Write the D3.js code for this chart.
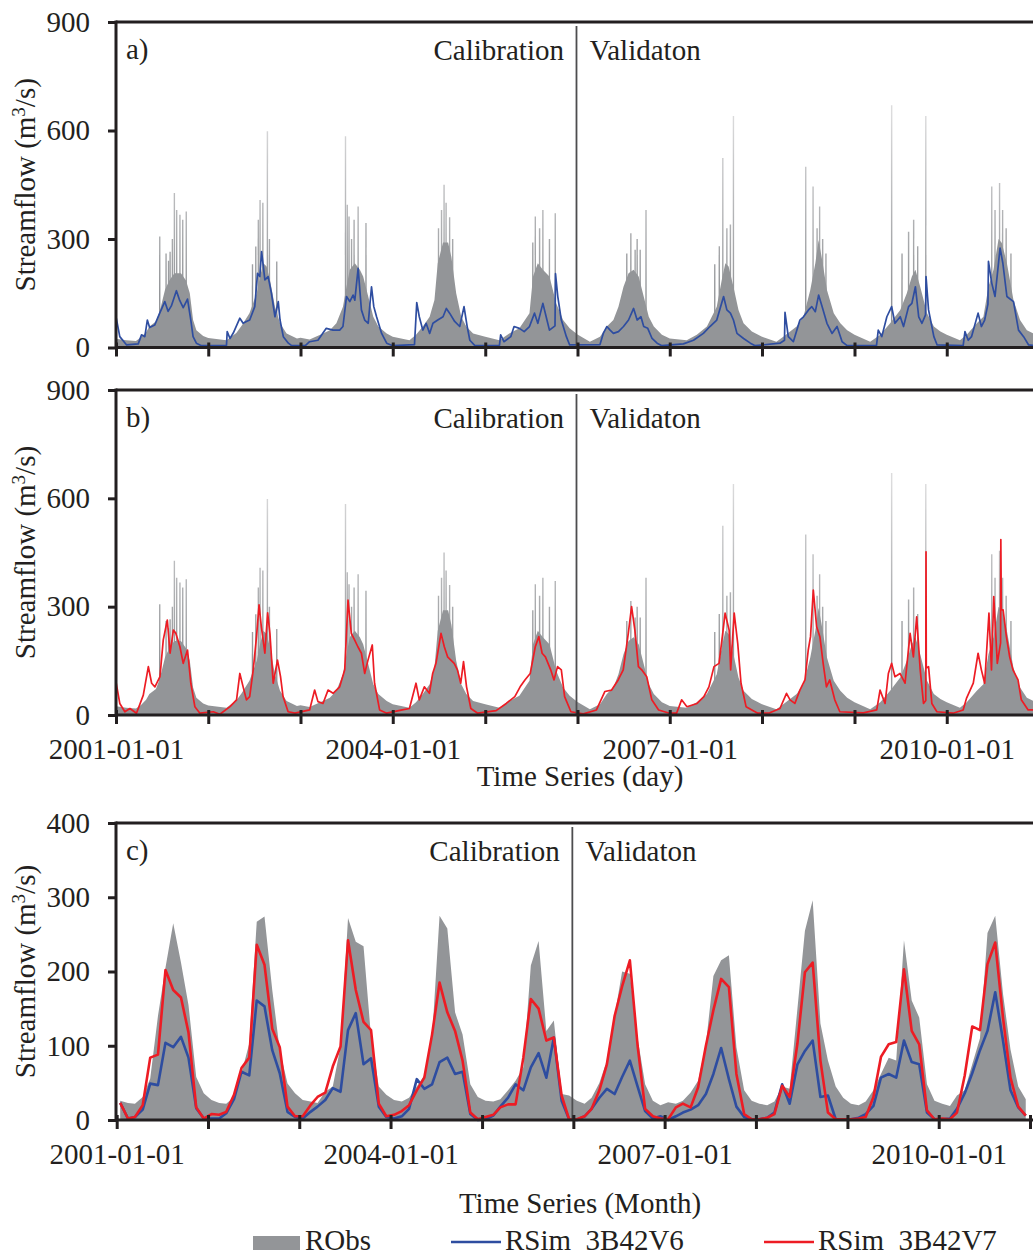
<!DOCTYPE html>
<html>
<head>
<meta charset="utf-8">
<script src="https://cdn.jsdelivr.net/npm/d3@7/dist/d3.min.js"></script>
<style>
body { margin: 0; background: #fff; }
</style>
</head>
<body>
<div id="chart"></div>
<script>
// observed daily streamflow, dense part of the hydrograph (date, m3/s)
var obsDay = [
  ["2001-01-01",24],["2001-02-10",20],["2001-03-21",18],["2001-04-10",28],["2001-04-30",42],["2001-05-13",58],["2001-06-08",72],["2001-06-23",100],["2001-07-14",160],["2001-07-31",185],["2001-08-20",205],["2001-09-15",205],["2001-10-05",185],["2001-10-20",150],["2001-11-02",76],["2001-11-15",48],["2001-12-12",32],
  ["2002-01-01",26],["2002-03-14",20],["2002-04-22",40],["2002-05-13",60],["2002-06-13",95],["2002-07-12",150],["2002-07-25",196],["2002-08-07",233],["2002-08-20",224],["2002-09-02",187],["2002-09-22",113],["2002-10-12",67],["2002-11-07",39],["2002-12-18",25],
  ["2003-01-01",27],["2003-02-06",22],["2003-03-31",39],["2003-04-27",48],["2003-05-23",67],["2003-06-18",113],["2003-07-02",168],["2003-07-15",215],["2003-08-04",233],["2003-08-24",215],["2003-09-06",196],["2003-09-26",141],["2003-10-16",85],["2003-11-05",58],["2003-12-08",39],
  ["2004-01-01",30],["2004-03-07",20],["2004-04-02",35],["2004-04-29",58],["2004-05-26",85],["2004-06-14",131],["2004-06-27",233],["2004-07-18",290],["2004-08-07",290],["2004-08-20",250],["2004-09-08",150],["2004-09-28",85],["2004-10-18",58],["2004-11-14",39],
  ["2005-01-01",30],["2005-02-26",20],["2005-04-06",39],["2005-05-16",53],["2005-06-25",95],["2005-07-09",196],["2005-07-28",233],["2005-08-17",215],["2005-09-12",196],["2005-10-09",122],["2005-11-05",76],["2005-12-01",53],
  ["2006-01-01",36],["2006-02-19",16],["2006-03-31",30],["2006-04-27",58],["2006-05-23",76],["2006-06-12",113],["2006-07-02",168],["2006-07-22",205],["2006-08-11",215],["2006-08-31",196],["2006-09-20",141],["2006-10-10",85],["2006-10-30",58],["2006-12-01",35],
  ["2007-01-01",25],["2007-03-09",20],["2007-04-18",35],["2007-05-28",58],["2007-07-06",113],["2007-07-26",187],["2007-08-09",233],["2007-08-22",224],["2007-09-10",168],["2007-09-30",104],["2007-10-20",67],["2007-11-22",44],
  ["2008-01-01",30],["2008-02-27",16],["2008-03-25",30],["2008-05-17",58],["2008-06-13",85],["2008-07-10",159],["2008-07-30",233],["2008-08-12",297],["2008-08-26",242],["2008-09-14",159],["2008-10-11",95],["2008-11-06",67],["2008-12-03",48],
  ["2009-01-01",35],["2009-03-04",16],["2009-04-13",35],["2009-05-22",67],["2009-07-01",104],["2009-07-27",150],["2009-08-16",196],["2009-08-30",215],["2009-09-18",168],["2009-10-15",95],["2009-11-11",58],["2009-12-07",44],
  ["2010-01-01",35],["2010-02-22",20],["2010-03-21",35],["2010-04-30",67],["2010-05-26",85],["2010-06-15",168],["2010-07-05",215],["2010-07-25",300],["2010-08-07",289],["2010-08-27",233],["2010-09-22",131],["2010-10-18",76],["2010-11-14",48],["2010-12-09",39],["2010-12-31",35]
];

// single-day flood peaks of the observed series
var obsSpikes = [
  ["2001-06-23",307],["2001-07-18",260],["2001-07-28",240],["2001-08-03",265],["2001-08-12",300],["2001-08-20",427],["2001-08-29",380],["2001-09-11",367],["2001-09-22",353],["2001-10-06",376],
  ["2002-06-25",230],["2002-07-08",279],["2002-07-18",353],["2002-07-25",408],["2002-08-05",400],["2002-08-23",598],["2002-08-31",300],["2002-09-29",238],
  ["2003-06-28",584],["2003-07-05",395],["2003-07-12",362],["2003-07-22",300],["2003-08-01",353],["2003-08-17",390],["2003-09-17",344],
  ["2004-06-30",330],["2004-07-12",380],["2004-07-22",450],["2004-07-30",400],["2004-08-13",360],["2004-08-25",300],
  ["2005-07-08",290],["2005-07-18",362],["2005-08-04",330],["2005-08-17",380],["2005-09-12",300],["2005-10-05",371],
  ["2006-07-15",260],["2006-07-31",316],["2006-08-17",270],["2006-08-25",300],["2006-09-06",270],["2006-09-29",380],
  ["2007-06-28",230],["2007-07-16",280],["2007-07-30",524],["2007-08-15",330],["2007-08-29",340],["2007-09-10",640],
  ["2008-06-22",500],["2008-07-21",445],["2008-08-06",330],["2008-08-16",390],["2008-08-28",300],["2008-09-10",260],
  ["2009-05-28",670],["2009-07-08",260],["2009-08-03",320],["2009-08-23",353],["2009-09-08",280],["2009-10-10",640],
  ["2010-06-28",445],["2010-07-11",380],["2010-07-29",455],["2010-08-10",380],["2010-08-24",330],["2010-09-12",260]
];

// simulated daily flow, 3B42V6 forcing
var v6Day = [
  ["2001-01-01",85],["2001-01-16",30],["2001-02-12",7],["2001-03-30",10],["2001-04-12",35],["2001-04-25",30],["2001-05-05",76],["2001-05-14",55],["2001-06-03",62],["2001-06-23",95],["2001-07-13",127],["2001-07-26",100],["2001-08-08",115],["2001-08-28",157],["2001-09-10",130],["2001-09-24",110],["2001-10-11",134],["2001-10-24",76],["2001-11-02",30],["2001-11-15",12],["2001-12-05",5],
  ["2002-03-14",5],["2002-03-17",44],["2002-03-28",25],["2002-04-10",40],["2002-05-06",81],["2002-05-19",67],["2002-06-01",72],["2002-06-14",76],["2002-07-04",113],["2002-07-15",205],["2002-07-24",196],["2002-07-31",265],["2002-08-07",224],["2002-08-13",187],["2002-08-26",196],["2002-09-08",150],["2002-09-22",85],["2002-10-05",127],["2002-10-12",76],["2002-10-25",30],["2002-11-14",12],["2002-11-27",5],
  ["2003-01-20",5],["2003-02-06",16],["2003-03-11",20],["2003-04-13",53],["2003-05-10",48],["2003-06-05",48],["2003-06-18",58],["2003-07-02",141],["2003-07-15",127],["2003-07-28",145],["2003-08-04",131],["2003-08-17",219],["2003-08-30",104],["2003-09-12",76],["2003-09-26",67],["2003-10-09",168],["2003-10-18",113],["2003-10-29",85],["2003-11-18",39],["2003-12-08",12],
  ["2004-01-01",5],["2004-03-27",8],["2004-04-05",124],["2004-04-15",85],["2004-04-29",48],["2004-05-12",67],["2004-05-26",39],["2004-06-08",67],["2004-06-27",76],["2004-07-18",85],["2004-07-31",108],["2004-08-13",95],["2004-09-02",72],["2004-09-22",58],["2004-10-09",113],["2004-10-21",60],["2004-11-01",20],["2004-11-21",5],
  ["2005-02-26",5],["2005-03-03",35],["2005-03-16",16],["2005-04-12",30],["2005-04-25",58],["2005-05-16",53],["2005-06-04",44],["2005-06-25",58],["2005-07-15",95],["2005-07-28",67],["2005-08-17",122],["2005-08-30",85],["2005-09-12",48],["2005-10-04",60],["2005-10-06",204],["2005-10-15",141],["2005-10-29",76],["2005-11-18",30],["2005-12-01",7],
  ["2006-03-31",8],["2006-04-13",39],["2006-04-27",58],["2006-05-10",48],["2006-05-23",39],["2006-06-12",44],["2006-07-02",58],["2006-07-22",76],["2006-08-11",108],["2006-08-25",76],["2006-09-09",85],["2006-09-20",58],["2006-10-06",53],["2006-10-23",25],["2006-11-12",12],["2006-12-01",5],
  ["2007-02-24",10],["2007-04-05",20],["2007-05-14",39],["2007-06-09",58],["2007-07-06",76],["2007-08-02",141],["2007-08-15",104],["2007-08-29",95],["2007-09-10",76],["2007-09-24",39],["2007-10-20",25],["2007-11-16",12],["2007-12-05",5],
  ["2008-03-12",12],["2008-03-30",20],["2008-04-01",97],["2008-04-14",30],["2008-05-04",16],["2008-05-30",76],["2008-06-13",85],["2008-07-03",104],["2008-07-16",113],["2008-07-30",99],["2008-08-12",145],["2008-08-26",113],["2008-09-14",67],["2008-10-04",39],["2008-10-24",58],["2008-11-13",16],["2008-12-03",5],
  ["2009-03-29",5],["2009-04-05",48],["2009-04-19",30],["2009-05-09",85],["2009-05-28",113],["2009-06-10",67],["2009-07-01",85],["2009-07-14",58],["2009-08-03",113],["2009-08-16",122],["2009-08-30",168],["2009-09-12",85],["2009-09-25",67],["2009-10-09",90],["2009-10-11",196],["2009-10-21",104],["2009-11-11",30],["2009-11-24",7],
  ["2010-03-07",5],["2010-03-14",44],["2010-03-27",20],["2010-04-09",30],["2010-05-05",95],["2010-05-18",58],["2010-05-31",76],["2010-06-13",120],["2010-06-15",238],["2010-06-28",178],["2010-07-11",141],["2010-07-31",275],["2010-08-11",233],["2010-08-27",141],["2010-09-22",127],["2010-10-12",48],["2010-11-01",30],["2010-11-21",7],["2010-12-31",4]
];

// simulated daily flow, 3B42V7 forcing
var v7Day = [
  ["2001-01-01",92],["2001-01-16",32],["2001-02-05",9],["2001-02-25",18],["2001-03-23",5],["2001-04-19",55],["2001-05-09",134],["2001-05-22",88],["2001-06-04",78],["2001-06-24",106],["2001-07-07",208],["2001-07-23",263],["2001-08-03",171],["2001-08-16",235],["2001-08-26",226],["2001-09-11",189],["2001-09-24",143],["2001-10-11",180],["2001-10-24",88],["2001-11-09",23],["2001-11-29",5],
  ["2002-01-21",9],["2002-02-16",2],["2002-03-28",23],["2002-04-23",42],["2002-05-06",115],["2002-05-19",78],["2002-06-01",42],["2002-06-14",51],["2002-06-28",125],["2002-07-11",217],["2002-07-21",305],["2002-07-30",245],["2002-08-13",171],["2002-08-24",283],["2002-09-02",226],["2002-09-15",88],["2002-10-02",152],["2002-10-14",106],["2002-10-24",51],["2002-11-13",9],["2002-12-10",5],
  ["2003-02-06",14],["2003-02-26",69],["2003-03-11",37],["2003-03-31",32],["2003-04-20",69],["2003-05-10",60],["2003-06-05",78],["2003-06-25",125],["2003-07-08",318],["2003-07-21",226],["2003-08-03",208],["2003-08-16",189],["2003-08-30",171],["2003-09-12",115],["2003-09-25",152],["2003-10-12",194],["2003-10-21",88],["2003-11-10",14],["2003-12-08",5],
  ["2004-02-08",14],["2004-03-07",18],["2004-04-02",88],["2004-04-15",42],["2004-05-05",78],["2004-05-25",60],["2004-06-07",115],["2004-06-20",143],["2004-07-10",226],["2004-07-23",189],["2004-08-05",161],["2004-08-18",152],["2004-08-31",143],["2004-09-13",125],["2004-09-26",88],["2004-10-07",148],["2004-10-19",78],["2004-11-05",18],["2004-12-02",5],
  ["2005-02-13",12],["2005-03-25",32],["2005-04-28",51],["2005-05-19",78],["2005-06-07",97],["2005-06-28",115],["2005-07-18",189],["2005-08-01",217],["2005-08-14",171],["2005-08-27",161],["2005-09-17",125],["2005-09-30",97],["2005-10-14",134],["2005-10-29",125],["2005-11-11",51],["2005-12-06",9],
  ["2006-01-24",3],["2006-03-17",14],["2006-04-19",65],["2006-05-16",69],["2006-06-11",97],["2006-07-01",125],["2006-07-21",226],["2006-08-03",300],["2006-08-16",235],["2006-08-30",134],["2006-09-12",125],["2006-10-02",106],["2006-10-22",42],["2006-11-18",14],["2006-12-31",5],
  ["2007-01-28",5],["2007-02-17",42],["2007-03-10",23],["2007-04-19",32],["2007-05-16",51],["2007-06-05",78],["2007-06-25",134],["2007-07-15",143],["2007-07-28",217],["2007-08-08",282],["2007-08-24",235],["2007-08-30",125],["2007-09-13",282],["2007-09-27",198],["2007-10-10",88],["2007-10-30",23],["2007-12-15",5],
  ["2008-02-01",6],["2008-03-12",18],["2008-04-07",60],["2008-04-21",42],["2008-05-10",32],["2008-05-30",69],["2008-06-19",97],["2008-07-02",180],["2008-07-11",217],["2008-07-22",346],["2008-08-04",245],["2008-08-17",217],["2008-08-30",143],["2008-09-12",78],["2008-09-25",97],["2008-10-15",42],["2008-11-04",9],
  ["2009-02-05",6],["2009-03-30",14],["2009-04-12",69],["2009-05-02",32],["2009-05-15",115],["2009-05-28",143],["2009-06-10",106],["2009-06-30",115],["2009-07-20",88],["2009-08-09",226],["2009-08-22",161],["2009-09-04",272],["2009-09-18",125],["2009-10-01",32],["2009-10-10",40],["2009-10-11",452],["2009-10-12",130],["2009-10-21",134],["2009-11-03",32],["2009-11-23",9],
  ["2010-01-26",5],["2010-03-07",14],["2010-03-20",46],["2010-04-16",88],["2010-05-05",171],["2010-05-18",125],["2010-05-31",88],["2010-06-17",282],["2010-06-27",125],["2010-07-06",328],["2010-07-20",143],["2010-08-02",200],["2010-08-03",486],["2010-08-05",291],["2010-08-12",291],["2010-08-25",217],["2010-09-07",161],["2010-09-20",125],["2010-10-10",97],["2010-10-23",42],["2010-11-19",14],["2010-12-31",15]
];

// monthly means, Jan 2001 .. Dec 2010 (one row per year)
var obsMon = [
  26, 23, 22, 31, 56, 140, 205, 265, 212, 155, 58, 36,
  27, 23, 22, 31, 63, 103, 267, 274, 175, 94, 49, 36,
  27, 25, 23, 38, 45, 99, 272, 240, 234, 112, 45, 34,
  27, 25, 30, 45, 60, 110, 275, 258, 145, 115, 48, 31,
  26, 25, 28, 40, 53, 71, 208, 241, 120, 134, 35, 33,
  26, 22, 30, 50, 80, 140, 200, 197, 110, 48, 26, 20,
  24, 22, 26, 37, 53, 102, 194, 215, 222, 98, 40, 26,
  22, 20, 25, 45, 42, 150, 255, 296, 130, 80, 45, 30,
  22, 20, 25, 40, 62, 84, 80, 242, 161, 138, 48, 26,
  22, 19, 33, 40, 75, 110, 252, 275, 170, 95, 45, 28
];
var v6Mon = [
  23, 2, 4, 14, 49, 47, 104, 98, 112, 84, 16, 2,
  2, 2, 9, 28, 65, 60, 161, 153, 94, 63, 11, 4,
  2, 11, 18, 27, 43, 38, 121, 144, 75, 83, 18, 4,
  2, 5, 15, 55, 42, 48, 78, 84, 62, 65, 8, 0,
  1, 6, 18, 30, 48, 40, 71, 90, 57, 111, 26, 1,
  0, 5, 15, 30, 42, 35, 58, 80, 45, 12, 2, 5,
  0, 5, 10, 14, 20, 35, 62, 97, 55, 18, 4, 1,
  1, 3, 10, 48, 22, 75, 93, 107, 31, 33, 1, 1,
  1, 3, 8, 19, 57, 62, 57, 107, 78, 75, 10, 1,
  1, 2, 15, 36, 63, 94, 120, 172, 107, 40, 17, 6
];
var v7Mon = [
  23, 2, 4, 20, 84, 88, 202, 175, 165, 118, 17, 2,
  8, 7, 11, 34, 70, 84, 236, 209, 123, 98, 18, 5,
  5, 20, 31, 37, 72, 99, 242, 175, 132, 121, 22, 5,
  7, 12, 20, 40, 57, 115, 185, 145, 120, 80, 10, 1,
  4, 7, 17, 21, 21, 84, 163, 150, 107, 111, 33, 1,
  1, 5, 15, 40, 75, 140, 180, 215, 100, 15, 5, 2,
  1, 17, 22, 17, 44, 100, 148, 190, 179, 62, 8, 1,
  1, 3, 8, 46, 31, 103, 199, 212, 80, 10, 1, 1,
  1, 2, 4, 31, 85, 102, 105, 203, 120, 102, 13, 1,
  2, 1, 10, 60, 126, 121, 210, 239, 138, 57, 18, 6
];

var tickLabels = ["2001-01-01", "2004-01-01", "2007-01-01", "2010-01-01"];
var splitDate = "2005-12-28";
var legendNames = ["RObs", "RSim  3B42V6", "RSim  3B42V7"];

var width = 1033,
    height = 1256;

var ink = "#231f20",
    grey = "#939598",
    blue = "#2e4da0",
    red = "#ed1c24";
var font = '"Liberation Serif", "Times New Roman", Times, serif';

var parse = d3.timeParse("%Y-%m-%d");
var fmt = d3.timeFormat("%Y-%m-%d");

function rows(arr) {
    return arr.map(function (d) { return { date: parse(d[0]), v: d[1] }; });
}
var obsD = rows(obsDay), spikeD = rows(obsSpikes), v6D = rows(v6Day), v7D = rows(v7Day);

function monthly(arr) {
    return arr.map(function (v, i) { return { date: new Date(2001, i, 15), v: v }; });
}
var obsM = monthly(obsMon), v6M = monthly(v6Mon), v7M = monthly(v7Mon);

var t0 = parse("2001-01-01"), t1 = parse("2011-01-01");
var xDay = d3.scaleTime().domain([t0, t1]).range([116, 1039]);
var xMon = d3.scaleTime().domain([t0, t1]).range([116.7, 1030]);

var svg = d3.select("#chart").append("svg")
    .attr("width", width)
    .attr("height", height)
    .style("font-family", font);

var defs = svg.append("defs");

var panels = [
    { id: "a", name: "a)", top: 22, bottom: 347.5, max: 900, step: 300, x: xDay, obs: obsD, spikes: spikeD, sims: [[v6D, blue]], lw: 1.7, labels: false },
    { id: "b", name: "b)", top: 390, bottom: 715, max: 900, step: 300, x: xDay, obs: obsD, spikes: spikeD, sims: [[v7D, red]], lw: 1.7, labels: true, title: "Time Series (day)", titleY: 786 },
    { id: "c", name: "c)", top: 823, bottom: 1120, max: 400, step: 100, x: xMon, obs: obsM, spikes: [], sims: [[v6M, blue], [v7M, red]], lw: 2.6, labels: true, title: "Time Series (Month)", titleY: 1213 }
];

panels.forEach(function (p) {
    var x = p.x;
    var y = d3.scaleLinear().domain([0, p.max]).range([p.bottom, p.top]);
    var g = svg.append("g");

    // spikes fade out towards their tips
    var grad = defs.append("linearGradient")
        .attr("id", "fade" + p.id)
        .attr("gradientUnits", "userSpaceOnUse")
        .attr("x1", 0).attr("x2", 0)
        .attr("y1", y(150)).attr("y2", y(650));
    grad.append("stop").attr("offset", 0).attr("stop-color", grey);
    grad.append("stop").attr("offset", 1).attr("stop-color", "#dcdcdd");

    g.selectAll(".spike")
        .data(p.spikes).enter().append("line")
        .attr("class", "spike")
        .attr("x1", function (d) { return x(d.date); })
        .attr("x2", function (d) { return x(d.date) + 0.01; })
        .attr("y1", y(0))
        .attr("y2", function (d) { return y(d.v); })
        .attr("stroke", "url(#fade" + p.id + ")")
        .attr("stroke-width", 1.4);

    var area = d3.area()
        .x(function (d) { return x(d.date); })
        .y0(y(0))
        .y1(function (d) { return y(d.v); });

    g.append("path")
        .datum(p.obs)
        .attr("d", area)
        .attr("fill", grey);

    var line = d3.line()
        .x(function (d) { return x(d.date); })
        .y(function (d) { return y(d.v); });

    p.sims.forEach(function (s) {
        g.append("path")
            .datum(s[0])
            .attr("d", line)
            .attr("fill", "none")
            .attr("stroke", s[1])
            .attr("stroke-width", p.lw)
            .attr("stroke-linejoin", "round");
    });

    // calibration / validation split
    var xs = x(parse(splitDate));
    g.append("line")
        .attr("x1", xs).attr("x2", xs)
        .attr("y1", p.top + 4).attr("y2", p.bottom)
        .attr("stroke", "#4d4d4f")
        .attr("stroke-width", 1.8);

    g.append("text")
        .attr("x", xs - 12.5).attr("y", p.top + 38)
        .attr("text-anchor", "end")
        .attr("font-size", 29).attr("fill", ink)
        .text("Calibration");
    g.append("text")
        .attr("x", xs + 13).attr("y", p.top + 38)
        .attr("font-size", 29).attr("fill", ink)
        .text("Validaton");

    g.append("text")
        .attr("x", 126).attr("y", p.top + 37)
        .attr("font-size", 29).attr("fill", ink)
        .text(p.name);

    // axes
    var yAxis = d3.axisLeft(y)
        .tickValues(d3.range(0, p.max + 1, p.step))
        .tickSize(8)
        .tickPadding(18)
        .tickFormat(d3.format("d"));

    var gy = g.append("g")
        .attr("transform", "translate(116,0)")
        .attr("color", ink)
        .call(yAxis);
    gy.select(".domain").remove();
    gy.selectAll(".tick line").attr("stroke-width", 3);
    gy.selectAll("text").attr("font-size", 29).attr("font-family", font);

    var xAxis = d3.axisBottom(x)
        .ticks(d3.timeYear.every(1))
        .tickSize(9)
        .tickSizeOuter(0)
        .tickFormat(function (d) {
            var s = fmt(d);
            return p.labels && tickLabels.indexOf(s) >= 0 ? s : "";
        });

    var gx = g.append("g")
        .attr("transform", "translate(0," + p.bottom + ")")
        .attr("color", ink)
        .call(xAxis);
    gx.select(".domain").remove();
    gx.selectAll(".tick line").attr("y1", -5).attr("stroke-width", 3);
    gx.selectAll("text")
        .attr("y", 44).attr("dy", 0)
        .attr("font-size", 29).attr("font-family", font);

    // frame: left axis, top border, bottom axis
    g.append("line")
        .attr("x1", 116).attr("x2", 116)
        .attr("y1", p.top - 1.5).attr("y2", p.bottom + 1.5)
        .attr("stroke", ink).attr("stroke-width", 3);
    g.append("line")
        .attr("x1", 116).attr("x2", width)
        .attr("y1", p.top).attr("y2", p.top)
        .attr("stroke", ink).attr("stroke-width", 3);
    g.append("line")
        .attr("x1", 116).attr("x2", width)
        .attr("y1", p.bottom).attr("y2", p.bottom)
        .attr("stroke", ink).attr("stroke-width", 3);

    // y title
    var cy = (p.top + p.bottom) / 2;
    var yt = g.append("text")
        .attr("transform", "translate(35," + cy + ") rotate(-90)")
        .attr("text-anchor", "middle")
        .attr("font-size", 29).attr("fill", ink);
    yt.append("tspan").text("Streamflow (m");
    yt.append("tspan").attr("dy", -10).attr("font-size", 19).text("3");
    yt.append("tspan").attr("dy", 10).text("/s)");

    if (p.title) {
        g.append("text")
            .attr("x", 580).attr("y", p.titleY)
            .attr("text-anchor", "middle")
            .attr("font-size", 29).attr("fill", ink)
            .text(p.title);
    }
});

// legend
var lg = svg.append("g").attr("font-size", 29).attr("fill", ink);
lg.append("rect")
    .attr("x", 253).attr("y", 1236)
    .attr("width", 47).attr("height", 14)
    .attr("fill", grey);
lg.append("text").attr("x", 305).attr("y", 1250).text(legendNames[0]);

[[451, blue, legendNames[1]], [764, red, legendNames[2]]].forEach(function (l) {
    lg.append("line")
        .attr("x1", l[0]).attr("x2", l[0] + 50)
        .attr("y1", 1242).attr("y2", 1242)
        .attr("stroke", l[1]).attr("stroke-width", 2.6);
    lg.append("text")
        .attr("x", l[0] + 54).attr("y", 1250)
        .style("white-space", "pre")
        .text(l[2]);
});
</script>
</body>
</html>
